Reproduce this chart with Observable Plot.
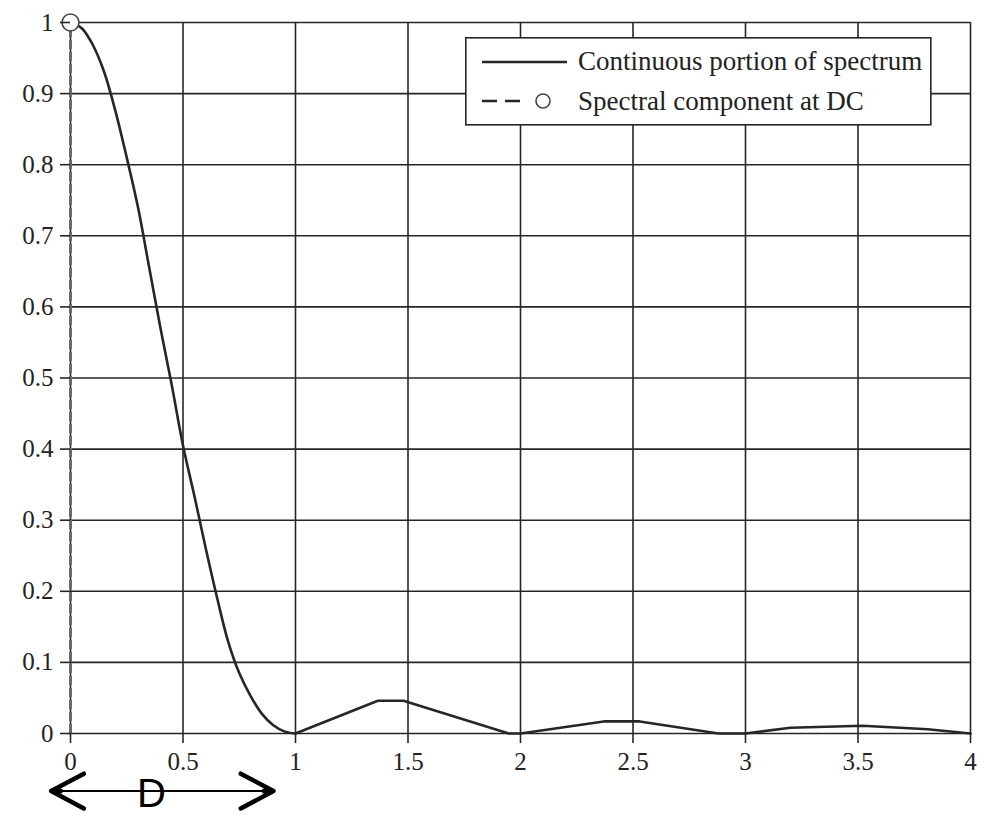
<!DOCTYPE html>
<html>
<head>
<meta charset="utf-8">
<script src="https://cdn.jsdelivr.net/npm/d3@7"></script>
<script src="https://cdn.jsdelivr.net/npm/@observablehq/plot@0.6"></script>
<style>
  html, body { margin: 0; padding: 0; background: #fff; }
  #chart { position: relative; width: 985px; height: 817px; }
  #legend { position: absolute; left: 465px; top: 37px; }
</style>
</head>
<body>
<div id="chart"></div>
<script>
// Main lobe of the continuous spectrum (normalised frequency f·T, magnitude)
const lobeFreq = [0, 0.05, 0.1, 0.15, 0.2, 0.25, 0.3, 0.35, 0.4, 0.45, 0.5,
  0.55, 0.6, 0.65, 0.7, 0.75, 0.8, 0.85, 0.9, 0.95, 1.0];
const lobeMag = [1, 0.992, 0.968, 0.93, 0.875, 0.81, 0.74, 0.655, 0.57, 0.49, 0.405,
  0.335, 0.262, 0.193, 0.13, 0.085, 0.053, 0.028, 0.012, 0.003, 0];

// Side lobes, sampled coarsely
const sideFreq = [1.0, 1.366, 1.48, 1.948, 2.0, 2.37, 2.53, 2.88, 3.0, 3.2, 3.52, 3.81, 4.0];
const sideMag = [0, 0.046, 0.046, 0, 0, 0.017, 0.017, 0, 0, 0.008, 0.011, 0.006, 0];

// Discrete spectral line at DC
const dcFreq = [0];
const dcValue = [1];

// Axis ticks
const xTicks = [0, 0.5, 1, 1.5, 2, 2.5, 3, 3.5, 4];
const yTicks = [0, 0.1, 0.2, 0.3, 0.4, 0.5, 0.6, 0.7, 0.8, 0.9, 1];

// Width marker "D" drawn below the axis
const spanStart = -0.086, spanEnd = 0.902, spanLevel = -0.081, spanLabel = "D", spanLabelX = 0.36;

const seriesLabels = ["Continuous portion of spectrum", "Spectral component at DC"];

const lobe = lobeFreq.map((f, i) => ({f, m: lobeMag[i]}));
const side = sideFreq.map((f, i) => ({f, m: sideMag[i]}));
const dc = dcFreq.map((f, i) => ({f, m: dcValue[i]}));
const spanMid = (spanStart + spanEnd) / 2;
const ink = "#262626";
const serif = "'Liberation Serif', 'Times New Roman', serif";
const headCut = 0.05; // where the bold head strokes hand over to the thin shaft

const chart = Plot.plot({
  width: 985,
  height: 817,
  marginLeft: 70,
  marginRight: 15,
  marginTop: 22,
  marginBottom: 84,
  style: {background: "#fff", fontFamily: serif, overflow: "visible"},
  x: {domain: [0, 4]},
  y: {domain: [0, 1]},
  marks: [
    Plot.gridX(xTicks, {stroke: ink, strokeOpacity: 1, strokeWidth: 1.6}),
    Plot.gridY(yTicks, {stroke: ink, strokeOpacity: 1, strokeWidth: 1.6}),
    Plot.line(lobe, {x: "f", y: "m", stroke: ink, strokeWidth: 2.6, curve: "catmull-rom"}),
    Plot.line(side, {x: "f", y: "m", stroke: ink, strokeWidth: 2.6, strokeLinejoin: "round"}),
    Plot.ruleX(dc, {x: "f", y1: 0, y2: "m", stroke: "#6a6a6a", strokeWidth: 3, strokeDasharray: "9,3"}),
    Plot.dot(dc, {x: "f", y: "m", r: 8.5, fill: "#fff", stroke: "#444", strokeWidth: 1.6}),
    Plot.axisX(xTicks, {tickSize: 10, tickPadding: 9, fontSize: 25, fontFamily: serif,
      stroke: ink, strokeWidth: 1.6, color: "#222", tickFormat: d3.format("")}),
    Plot.axisY(yTicks, {tickSize: 10, tickPadding: 7, fontSize: 25, fontFamily: serif,
      stroke: ink, strokeWidth: 1.6, color: "#222", tickFormat: d3.format("")}),
    // Bold heads at both ends of the width marker
    Plot.arrow([{a: spanMid, b: spanStart}, {a: spanMid, b: spanEnd}], {
      x1: "a", x2: "b", y1: () => spanLevel, y2: () => spanLevel,
      stroke: "#000", strokeWidth: 4.5, headLength: 25, headAngle: 56, clip: false,
      strokeLinecap: "round", strokeLinejoin: "round"
    }),
    // Replace the bold shaft with a thin one
    Plot.link([{a: spanStart + headCut, b: spanEnd - headCut, y: spanLevel}], {
      x1: "a", x2: "b", y1: "y", y2: "y", stroke: "#fff", strokeWidth: 6, clip: false
    }),
    Plot.link([{a: spanStart, b: spanEnd, y: spanLevel}], {
      x1: "a", x2: "b", y1: "y", y2: "y", stroke: "#000", strokeWidth: 2, clip: false
    }),
    Plot.text([spanLabel], {
      x: () => spanLabelX, y: () => spanLevel, text: d => d, fontSize: 40,
      fontFamily: "'Liberation Sans', Arial, sans-serif", fill: "#000",
      lineAnchor: "top", dy: -12, clip: false
    })
  ]
});

const host = document.getElementById("chart");
host.appendChild(chart);

// Boxed legend in the upper right of the plot area
const legend = d3.select(host).append("svg")
  .attr("id", "legend")
  .attr("width", 467)
  .attr("height", 89);
legend.append("rect")
  .attr("x", 0.8).attr("y", 0.8).attr("width", 465).attr("height", 87)
  .attr("fill", "#fff").attr("stroke", ink).attr("stroke-width", 1.6);
legend.append("line")
  .attr("x1", 17).attr("x2", 102).attr("y1", 25).attr("y2", 25)
  .attr("stroke", ink).attr("stroke-width", 2.6);
legend.append("line")
  .attr("x1", 17).attr("x2", 62).attr("y1", 64).attr("y2", 64)
  .attr("stroke", ink).attr("stroke-width", 2.4).attr("stroke-dasharray", "15,8");
legend.append("circle")
  .attr("cx", 78).attr("cy", 64).attr("r", 7)
  .attr("fill", "#fff").attr("stroke", "#444").attr("stroke-width", 1.6);
legend.selectAll("text.lbl")
  .data(seriesLabels)
  .join("text")
  .attr("class", "lbl")
  .attr("x", 113)
  .attr("y", (d, i) => 33 + i * 40)
  .attr("font-family", serif)
  .attr("font-size", 27)
  .attr("fill", "#222")
  .text(d => d);
</script>
</body>
</html>
